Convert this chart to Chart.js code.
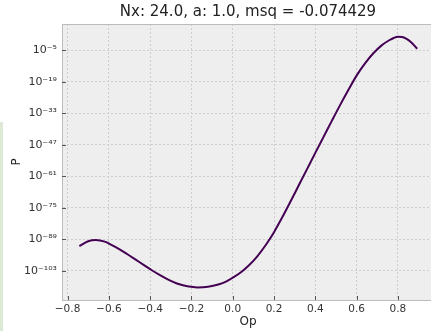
<!DOCTYPE html>
<html>
<head>
<meta charset="utf-8">
<script src="https://cdn.jsdelivr.net/npm/chart.js@4.4.0/dist/chart.umd.min.js"></script>
<style>
  html, body { margin: 0; padding: 0; background: #fff; overflow: hidden; }
  #wrap { position: relative; width: 440px; height: 331px; }
  #strip { position: absolute; left: 0; top: 122px; width: 3px; height: 209px; background: #dde8d6; }
</style>
</head>
<body>
<div id="wrap">
  <canvas id="pChart"></canvas>
  <div id="strip"></div>
</div>
<script>
// values (P given as powers of ten)
const opValues = [
  -0.743, -0.70, -0.663, -0.62, -0.59, -0.55, -0.51, -0.47, -0.43, -0.39,
  -0.35, -0.31, -0.27, -0.22, -0.17, -0.12, -0.07, -0.03, 0.00, 0.04,
  0.08, 0.12, 0.16, 0.20, 0.24, 0.28, 0.32, 0.36, 0.40, 0.44,
  0.48, 0.52, 0.56, 0.60, 0.64, 0.68, 0.72, 0.76, 0.78, 0.80,
  0.82, 0.84, 0.86, 0.88, 0.893
];
const pExponents = [
  -92.0, -89.8, -89.3, -90.0, -91.3, -93.3, -95.6, -98.0, -100.4, -102.8,
  -105.0, -107.0, -108.6, -109.8, -110.3, -110.0, -109.0, -107.6, -106.0, -103.6,
  -100.4, -96.4, -91.5, -85.8, -79.2, -72.2, -65.0, -57.8, -50.6, -43.5,
  -36.4, -29.4, -22.7, -16.3, -11.0, -6.5, -3.0, -0.5, 0.4, 0.95,
  0.85, 0.1, -1.2, -3.0, -4.4
];
const xTickValues = [-0.8, -0.6, -0.4, -0.2, 0.0, 0.2, 0.4, 0.6, 0.8];
const yTickExponents = [-103, -89, -75, -61, -47, -33, -19, -5];

const supMap = { '-': '⁻', '0': '⁰', '1': '¹', '2': '²', '3': '³', '4': '⁴', '5': '⁵', '6': '⁶', '7': '⁷', '8': '⁸', '9': '⁹' };
function powerLabel(value) {
  const e = Math.round(Math.log10(value));
  return '10' + String(e).split('').map(c => supMap[c]).join('');
}

const points = opValues.map((x, i) => ({ x: x, y: Math.pow(10, pExponents[i]) }));

const frame = {
  id: 'frame',
  beforeDraw(chart) {
    const a = chart.chartArea, c = chart.ctx;
    c.save();
    c.fillStyle = '#eeeeee';
    c.fillRect(a.left, a.top, a.right - a.left, a.bottom - a.top);
    c.restore();
  },
  afterDraw(chart) {
    const a = chart.chartArea, c = chart.ctx;
    c.save();
    c.strokeStyle = '#bcbcbc';
    c.lineWidth = 1;
    c.beginPath();
    c.moveTo(a.left, a.top + 0.5);
    c.lineTo(a.right, a.top + 0.5);
    c.stroke();
    // inward tick marks
    c.strokeStyle = '#555';
    c.beginPath();
    chart.scales.x.ticks.forEach(t => {
      const px = Math.round(chart.scales.x.getPixelForValue(t.value)) + 0.5;
      c.moveTo(px, a.bottom);
      c.lineTo(px, a.bottom - 4);
    });
    chart.scales.y.ticks.forEach(t => {
      const py = Math.round(chart.scales.y.getPixelForValue(t.value)) + 0.5;
      c.moveTo(a.left, py);
      c.lineTo(a.left + 4, py);
    });
    c.stroke();
    c.restore();
  }
};

const ctx = document.getElementById('pChart').getContext('2d');
const pChart = new Chart(ctx, {
  type: 'line',
  data: {
    datasets: [{
      data: points,
      borderColor: '#440154',
      borderWidth: 2,
      pointRadius: 0,
      fill: false,
      cubicInterpolationMode: 'monotone'
    }]
  },
  options: {
    responsive: true,
    maintainAspectRatio: false,
    animation: false,
    layout: { padding: { left: 0, right: 6, top: 0, bottom: 0 } },
    plugins: {
      legend: { display: false },
      tooltip: { enabled: false },
      title: {
        display: true,
        fullSize: false,
        text: 'Nx: 24.0, a: 1.0, msq = -0.074429',
        color: '#222',
        font: { family: 'DejaVu Sans', size: 15, weight: 'normal' },
        padding: { top: 3, bottom: 3 }
      }
    },
    scales: {
      x: {
        type: 'linear',
        min: -0.827,
        max: 0.975,
        afterBuildTicks: (s) => { s.ticks = xTickValues.map(v => ({ value: v })); },
        afterFit: (s) => { s.height = 31; },
        ticks: {
          color: '#333',
          padding: 3,
          maxRotation: 0,
          font: { family: 'DejaVu Sans', size: 10.5 },
          callback: (v) => (v < 0 ? '−' : '') + Math.abs(v).toFixed(1)
        },
        grid: { color: '#cdcdcd', drawTicks: false },
        border: { color: '#bcbcbc', dash: [2, 2] },
        title: {
          display: true,
          text: 'Op',
          color: '#222',
          font: { family: 'DejaVu Sans', size: 12 },
          padding: { top: 0, bottom: 2 }
        }
      },
      y: {
        type: 'logarithmic',
        min: Math.pow(10, -115.9),
        max: Math.pow(10, 6.6),
        afterBuildTicks: (s) => { s.ticks = yTickExponents.map(e => ({ value: Math.pow(10, e) })); },
        afterFit: (s) => { s.width = 62; },
        ticks: {
          color: '#333',
          padding: 5,
          font: { family: 'DejaVu Sans', size: 11 },
          callback: (v) => powerLabel(v)
        },
        grid: { color: '#cdcdcd', drawTicks: false },
        border: { color: '#bcbcbc', dash: [2, 2] },
        title: {
          display: true,
          text: 'P',
          color: '#222',
          font: { family: 'DejaVu Sans', size: 12 },
          padding: { top: 10, bottom: 0 }
        }
      }
    }
  },
  plugins: [frame]
});
</script>
</body>
</html>
